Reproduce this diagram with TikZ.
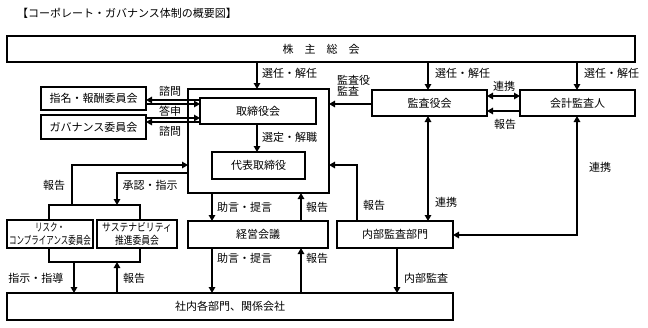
\documentclass[tikz,border=0pt]{standalone}
\usepackage{fontspec}
\setmainfont{Noto Sans CJK JP}
\usetikzlibrary{arrows.meta}
\begin{document}
\begin{tikzpicture}[x=1pt,y=-1pt,
 box/.style={draw, line width=1.7pt, inner sep=0pt, outer sep=0pt, align=center, font=\fontsize{11}{12}\selectfont},
 arr/.style={line width=1.4pt, -{Triangle[length=6pt,width=6.5pt]}},
 darr/.style={line width=1.4pt, {Triangle[length=6pt,width=6.5pt]}-{Triangle[length=6pt,width=6.5pt]}},
 ln/.style={line width=1.4pt},
 lab/.style={inner sep=0pt, font=\fontsize{11}{12}\selectfont}]
\useasboundingbox (0,0) rectangle (648,327);
% title
\node[lab, anchor=west] (title) at (17,13) {【コーポレート・ガバナンス体制の概要図】};
% boxes
\node[box, minimum width=628pt, minimum height=26pt] (soukai) at (321,49) {株　主　総　会};
\node[box, minimum width=141pt, minimum height=104pt] (bigbox) at (258.5,141) {};
\node[box, minimum width=116pt, minimum height=26pt] (torishimari) at (258,111) {取締役会};
\node[box, minimum width=93pt, minimum height=27pt] (daihyo) at (258.5,165.5) {代表取締役};
\node[box, minimum width=105pt, minimum height=23pt] (shimei) at (93.5,98.5) {指名・報酬委員会};
\node[box, minimum width=105pt, minimum height=24pt] (gov) at (93.5,127) {ガバナンス委員会};
\node[box, minimum width=86pt, minimum height=28pt, font=\fontsize{11}{12.5}\selectfont] (risk) at (50,234) {\scalebox{0.68}[1]{リスク・}\\\scalebox{0.68}[1]{コンプライアンス委員会}};
\node[box, minimum width=80pt, minimum height=28pt, font=\fontsize{11}{12.5}\selectfont] (sus) at (137,234) {\scalebox{0.8}[1]{サステナビリティ}\\\scalebox{0.8}[1]{推進委員会}};
\node[box, minimum width=140pt, minimum height=27pt] (keiei) at (258,234.5) {経営会議};
\node[box, minimum width=116pt, minimum height=27pt] (naibu) at (395,234.5) {内部監査部門};
\node[box, minimum width=115pt, minimum height=26pt] (kansayaku) at (429.5,103) {監査役会};
\node[box, minimum width=115pt, minimum height=26pt] (kaikei) at (577.5,103) {会計監査人};
\node[box, minimum width=446pt, minimum height=27pt] (shanai) at (230,306.5) {社内各部門、関係会社};
% helper coordinates
\coordinate (x212) at (212,0);
\coordinate (x257) at (257,0);
\coordinate (x301) at (301,0);
\coordinate (x357) at (357,0);
\coordinate (x397) at (397,0);
\coordinate (x428) at (428,0);
\coordinate (x577) at (577,0);
\coordinate (y96) at (0,96);
\coordinate (y100) at (0,100);
\coordinate (y104) at (0,104);
\coordinate (y111) at (0,111);
\coordinate (y118) at (0,118);
\coordinate (y122) at (0,122);
\coordinate (y165) at (0,165);
\coordinate (y173) at (0,173);
\coordinate (y235) at (0,235);
\coordinate (bA) at (49,205);
\coordinate (bB) at (140,205);
\coordinate (bR) at (72,205);
\coordinate (bS) at (117,205);
\coordinate (bC) at (49,262);
\coordinate (bD) at (140,262);
\coordinate (bE) at (74,262);
\coordinate (bF) at (117,262);
% connectors
\draw[arr] (soukai.south -| x257) -- (bigbox.north -| x257);
\draw[arr] (soukai.south -| x428) -- (kansayaku.north -| x428);
\draw[arr] (soukai.south -| x577) -- (kaikei.north -| x577);
\draw[arr] (torishimari.south -| x257) -- (daihyo.north -| x257);
\draw[arr] (torishimari.west |- y100) -- (shimei.east |- y100);
\draw[arr] (shimei.east |- y104) -- (torishimari.west |- y104);
\draw[arr] (gov.east |- y118) -- (torishimari.west |- y118);
\draw[arr] (torishimari.west |- y122) -- (gov.east |- y122);
\draw[ln] (risk.north -| bA) -- (bA) -- (bB) -- (sus.north -| bB);
\draw[arr] (bR) |- (bigbox.west |- y165);
\draw[arr] (bigbox.west |- y173) -| (bS);
\draw[ln] (risk.south -| bC) -- (bC) -- (bD) -- (sus.south -| bD);
\draw[arr] (bE) -- (shanai.north -| bE);
\draw[arr] (shanai.north -| bF) -- (bF);
\draw[arr] (bigbox.south -| x212) -- (keiei.north -| x212);
\draw[arr] (keiei.north -| x301) -- (bigbox.south -| x301);
\draw[arr] (keiei.south -| x212) -- (shanai.north -| x212);
\draw[arr] (shanai.north -| x301) -- (keiei.south -| x301);
\draw[arr] (naibu.north -| x357) |- (bigbox.east |- y165);
\draw[arr] (kansayaku.west |- y104) -- (bigbox.east |- y104);
\draw[darr] (kansayaku.east |- y96) -- (kaikei.west |- y96);
\draw[arr] (kaikei.west |- y111) -- (kansayaku.east |- y111);
\draw[darr] (kansayaku.south -| x428) -- (naibu.north -| x428);
\draw[darr] (kaikei.south -| x577) |- (naibu.east |- y235);
\draw[arr] (naibu.south -| x397) -- (shanai.north -| x397);
% labels
\node[lab, anchor=west] (l1) at (262,73) {選任・解任};
\node[lab, anchor=west] (l2) at (435,73) {選任・解任};
\node[lab, anchor=west] (l3) at (584,73) {選任・解任};
\node[lab, anchor=west] (l4) at (262,137) {選定・解職};
\node[lab] (l5) at (170,91) {諮問};
\node[lab] (l6) at (170,111) {答申};
\node[lab] (l7) at (170,131) {諮問};
\node[lab, anchor=north west, align=left, font=\fontsize{11}{11}\selectfont] (l8) at (337,75) {監査役\\監査};
\node[lab] (l9) at (504,86) {連携};
\node[lab] (l10) at (505,124) {報告};
\node[lab] (l11) at (54,185) {報告};
\node[lab] (l12) at (150,185) {承認・指示};
\node[lab, anchor=west] (l13) at (217,207) {助言・提言};
\node[lab, anchor=west] (l14) at (306,207) {報告};
\node[lab, anchor=west] (l15) at (217,258) {助言・提言};
\node[lab, anchor=west] (l16) at (306,258) {報告};
\node[lab, anchor=west] (l17) at (363,205) {報告};
\node[lab, anchor=west] (l18) at (435,202) {連携};
\node[lab] (l19) at (600,167) {連携};
\node[lab] (l20) at (36,278) {指示・指導};
\node[lab] (l21) at (134,278) {報告};
\node[lab, anchor=west] (l22) at (404,278) {内部監査};
\end{tikzpicture}
\end{document}
